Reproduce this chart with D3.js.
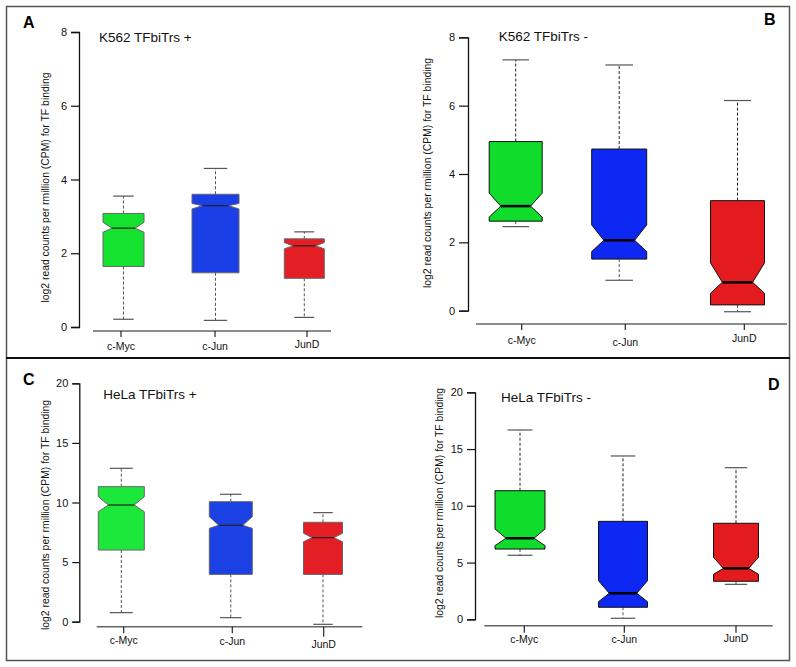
<!DOCTYPE html>
<html><head><meta charset="utf-8">
<script src="https://cdn.jsdelivr.net/npm/d3@7"></script>
<style>body{margin:0;background:#fff}svg{display:block;font-family:"Liberation Sans",Arial,sans-serif}</style>
</head><body>
<svg id="chart" width="796" height="667"></svg>
<script>
// ---------------- data ----------------
const categories = ["c-Myc", "c-Jun", "JunD"];

const ticksK562 = [0, 2, 4, 6, 8];
const ticksHeLa = [0, 5, 10, 15, 20];

// Panel A: K562 TFbiTrs +
const aWhiskerLow  = [0.21, 0.18, 0.26];
const aQ1          = [1.64, 1.47, 1.32];
const aNotchLow    = [2.57, 3.20, 2.12];
const aMedian      = [2.68, 3.29, 2.20];
const aNotchHigh   = [2.84, 3.35, 2.29];
const aQ3          = [3.08, 3.60, 2.39];
const aWhiskerHigh = [3.55, 4.30, 2.58];

// Panel B: K562 TFbiTrs -
const bWhiskerLow  = [2.46, 0.89, -0.03];
const bQ1          = [2.62, 1.51, 0.17];
const bNotchLow    = [2.74, 1.73, 0.51];
const bMedian      = [3.06, 2.06, 0.83];
const bNotchHigh   = [3.44, 2.51, 1.40];
const bQ3          = [4.95, 4.73, 3.22];
const bWhiskerHigh = [7.34, 7.19, 6.15];

// Panel C: HeLa TFbiTrs +
const cWhiskerLow  = [0.76, 0.34, -0.22];
const cQ1          = [6.01, 3.97, 3.97];
const cNotchLow    = [9.23, 7.83, 6.71];
const cMedian      = [9.79, 8.09, 7.05];
const cNotchHigh   = [10.49, 8.81, 7.42];
const cQ3          = [11.33, 10.07, 8.34];
const cWhiskerHigh = [12.87, 10.69, 9.15];

// Panel D: HeLa TFbiTrs -
const dWhiskerLow  = [5.64, 0.09, 3.08];
const dQ1          = [6.19, 1.06, 3.35];
const dNotchLow    = [6.49, 1.55, 3.96];
const dMedian      = [7.14, 2.29, 4.49];
const dNotchHigh   = [7.96, 3.40, 5.46];
const dQ3          = [11.33, 8.63, 8.46];
const dWhiskerHigh = [16.68, 14.39, 13.36];

const yLabel = "log2 read counts per rmillion (CPM) for TF binding";

// ---------------- layout ----------------
const panels = [
  {letter:"A", lx:23, ly:28, title:"K562 TFbiTrs +", tx:99, ty:42,
   ax:79, yr:[327,32], ticks:ticksK562, tickLen:8, xy:331, xl:[93,331],
   tickX:[121,215,307], boxX:[123.5,215.5,304.3], boxW:[41,47,40],
   labY:[349.5,349.5,348], tickDown:[6,6,6], ylx:45, yly:187.5,
   stats:[aWhiskerLow,aQ1,aNotchLow,aMedian,aNotchHigh,aQ3,aWhiskerHigh],
   colors:["#14e22f","#1b3fe6","#e41e25"], thick:false},
  {letter:"B", lx:764, ly:24.5, title:"K562 TFbiTrs -", tx:498.7, ty:40.7,
   ax:468, yr:[310.7,37.3], ticks:ticksK562, tickLen:9, xy:324, xl:[476,787],
   tickX:[521.7,625.3,744.3], boxX:[515.7,619.2,737.5], boxW:[53,55,54],
   labY:[344,345.5,342], tickDown:[6,6,6], ylx:427.7, yly:173,
   stats:[bWhiskerLow,bQ1,bNotchLow,bMedian,bNotchHigh,bQ3,bWhiskerHigh],
   colors:["#10dc2c","#0c28f2","#e31b1e"], thick:true},
  {letter:"C", lx:23, ly:384.5, title:"HeLa TFbiTrs +", tx:103.3, ty:399,
   ax:79.3, yr:[621.7,383.3], ticks:ticksHeLa, tickLen:7, xy:626.7, xl:[96.7,362.3],
   tickX:[123.7,232.3,323.7], boxX:[121.3,230.8,323], boxW:[46,43,39],
   labY:[644,645,647.5], tickDown:[6.5,6.5,10], ylx:45.7, yly:515,
   stats:[cWhiskerLow,cQ1,cNotchLow,cMedian,cNotchHigh,cQ3,cWhiskerHigh],
   colors:["#1ce83c","#1b40e3","#e41e25"], thick:false},
  {letter:"D", lx:768, ly:390, title:"HeLa TFbiTrs -", tx:501, ty:401.7,
   ax:475, yr:[619.3,392.3], ticks:ticksHeLa, tickLen:8, xy:625.7, xl:[484.3,772.7],
   tickX:[524.3,624.3,736], boxX:[520,623,736], boxW:[50,49,45],
   labY:[643,643,641.5], tickDown:[7,7,7], ylx:439.3, yly:503,
   stats:[dWhiskerLow,dQ1,dNotchLow,dMedian,dNotchHigh,dQ3,dWhiskerHigh],
   colors:["#10dc2c","#0c28f2","#e31b1e"], thick:true}
];

const svg = d3.select("#chart");

// frame
svg.append("rect").attr("x",6.5).attr("y",6.5).attr("width",783).attr("height",654)
  .attr("fill","none").attr("stroke","#555").attr("stroke-width",1.5);
svg.append("line").attr("x1",6).attr("x2",790).attr("y1",358).attr("y2",358)
  .attr("stroke","#111").attr("stroke-width",2);

panels.forEach(p => {
  const g = svg.append("g");
  const y = d3.scaleLinear().domain([p.ticks[0], p.ticks[p.ticks.length-1]]).range(p.yr);
  const xTick = d3.scaleOrdinal().domain(categories).range(p.tickX);
  const xBox = d3.scaleOrdinal().domain(categories).range(p.boxX);
  const wBox = d3.scaleOrdinal().domain(categories).range(p.boxW);
  const fill = d3.scaleOrdinal().domain(categories).range(p.colors);

  // y axis
  const yAxis = g.append("g").attr("transform",`translate(${p.ax},0)`)
    .call(d3.axisLeft(y).tickValues(p.ticks).tickSizeOuter(0).tickSize(p.tickLen).tickPadding(4));
  yAxis.select(".domain").attr("stroke","#111").attr("stroke-width",1.3);
  yAxis.selectAll(".tick line").attr("stroke","#111").attr("stroke-width",1.2);
  yAxis.selectAll(".tick text").attr("font-size",11).attr("fill","#111")
    .attr("font-family","Liberation Sans, Arial, sans-serif");

  // x axis line
  g.append("line").attr("x1",p.xl[0]).attr("x2",p.xl[1]).attr("y1",p.xy).attr("y2",p.xy)
    .attr("stroke","#666").attr("stroke-width",1.5);
  categories.forEach((c,i) => {
    g.append("line").attr("x1",xTick(c)).attr("x2",xTick(c))
      .attr("y1",p.xy).attr("y2",p.xy+p.tickDown[i]).attr("stroke","#222").attr("stroke-width",1.2);
    g.append("text").attr("x",xTick(c)).attr("y",p.labY[i]).attr("text-anchor","middle")
      .attr("font-size",10.5).attr("fill","#111").text(c);
  });

  // boxes
  categories.forEach((c,i) => {
    const [wl,q1,nl,md,nh,q3,wh] = p.stats.map(a => a[i]);
    const cx = xBox(c), w = wBox(c), L = cx - w/2, R = cx + w/2;
    const ind = w*0.22, cap = w*0.25;
    const lineCol = p.thick ? "#111" : "#666";
    // whiskers
    [[q3,wh],[q1,wl]].forEach(([a,b], k) => {
      g.append("line").attr("x1",cx).attr("x2",cx).attr("y1",y(a)).attr("y2",y(b))
        .attr("stroke",(p.thick && k===0) ? "#222" : "#555").attr("stroke-width",1)
        .attr("stroke-dasharray","3,2");
      g.append("line").attr("x1",cx-cap).attr("x2",cx+cap).attr("y1",y(b)).attr("y2",y(b))
        .attr("stroke","#555").attr("stroke-width",1.2);
    });
    const pts = [
      [L,y(q3)],[R,y(q3)],[R,y(Math.min(nh,q3))],[R-ind,y(md)],[R,y(Math.max(nl,q1))],[R,y(q1)],
      [L,y(q1)],[L,y(Math.max(nl,q1))],[L+ind,y(md)],[L,y(Math.min(nh,q3))]
    ];
    g.append("path").attr("d", d3.line()(pts) + "Z")
      .attr("fill",fill(c)).attr("stroke",lineCol).attr("stroke-width",1).attr("stroke-linejoin","miter");
    g.append("line").attr("x1",L+ind).attr("x2",R-ind).attr("y1",y(md)).attr("y2",y(md))
      .attr("stroke",p.thick ? "#000" : "#222").attr("stroke-width",p.thick ? 2.5 : 1.2);
  });

  // titles and labels
  g.append("text").attr("x",p.tx).attr("y",p.ty).attr("font-size",13.5).attr("fill","#111").text(p.title);
  g.append("text").attr("x",p.lx).attr("y",p.ly).attr("font-size",16).attr("font-weight","bold")
    .attr("fill","#000").text(p.letter);
  g.append("text").attr("transform",`translate(${p.ylx},${p.yly}) rotate(-90)`)
    .attr("text-anchor","middle").attr("dy","0.35em").attr("font-size",10.4).attr("fill","#111").text(yLabel);
});
</script>
</body></html>
